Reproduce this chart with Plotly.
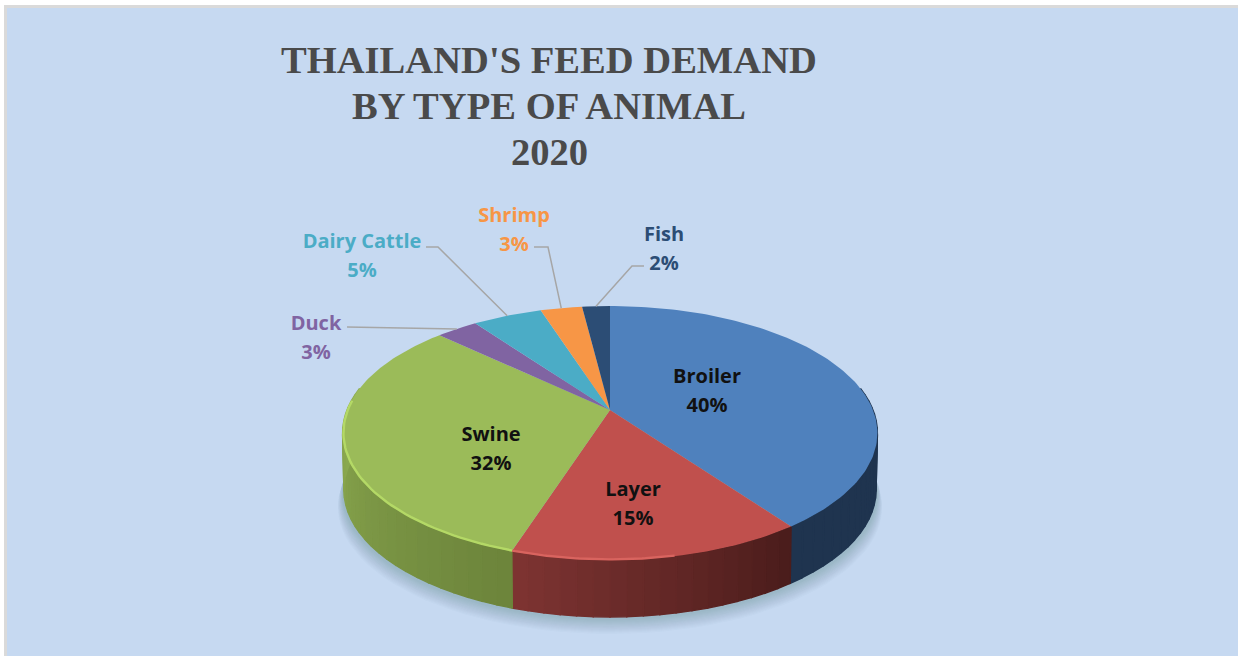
import math
import plotly.graph_objects as go

# Feed demand shares, percent
categories = ["Broiler", "Layer", "Swine", "Duck", "Dairy Cattle", "Shrimp", "Fish"]
shares = [40, 15, 32, 3, 5, 3, 2]
title_lines = ["THAILAND'S FEED DEMAND", "BY TYPE OF ANIMAL", "2020"]

# Styling per category
top_colors = ["#4F81BD", "#C0504D", "#9BBB59", "#8064A2", "#4BACC6", "#F79646", "#2C4D75"]
label_colors = ["#111111", "#111111", "#111111", "#8064A2", "#4BACC6", "#F79646", "#2C4D75"]
# Wall shading: colour at the start and the end of each slice's arc
wall_shades = {
    "Broiler": ((31, 52, 79), (31, 52, 79)),
    "Layer": ((74, 28, 27), (126, 52, 50)),
    "Swine": ((108, 132, 59), (143, 174, 82)),
}
rim_colors = {"Layer": "#D9645F", "Swine": "#B4D966"}

# Label anchors in page pixels: name line and value line
label_x = [707, 633, 491, 316, 362, 514, 664]
name_y = [378, 491, 436, 325, 243, 217, 236]
value_y = [407, 520, 465, 354, 272, 246, 265]
title_y = [60, 106, 152]
# Leader lines: (label end, elbow) for the outside labels
leaders = {
    "Duck": ((347, 327), (400, 328)),
    "Dairy Cattle": ((426, 247), (438, 247)),
    "Shrimp": ((534, 247), (548, 247)),
    "Fish": ((644, 266), (632, 266)),
}

W, H = 1238, 656
CX, CY = 610, 410             # projected disc centre
A, B, P = 263, 122.8, 0.181   # disc radii and perspective strength
DEPTH = 57                    # height of the cylinder wall


def disc(theta, radius=1.0, drop=0.0, shrink=1.0):
    """Project a point of the tilted disc; theta runs clockwise from 12 o'clock."""
    u = radius * math.sin(theta)
    v = -radius * math.cos(theta)
    d = 1 - P * v
    return CX + shrink * A * u / d, CY + B * v / d + drop


def arc(t0, t1, n, **kw):
    pts = [disc(t0 + (t1 - t0) * i / n, **kw) for i in range(n + 1)]
    return [p[0] for p in pts], [p[1] for p in pts]


total = sum(shares)
cum = [0]
for s in shares:
    cum.append(cum[-1] + s)
edges = [2 * math.pi * c / total for c in cum]

fig = go.Figure()


def poly(xs, ys, color, line=0.0):
    fig.add_trace(go.Scatter(
        x=xs, y=ys, mode="lines", fill="toself", fillcolor=color,
        line=dict(color=color, width=line), hoverinfo="skip", showlegend=False,
    ))


# Soft ground shadow below the cylinder
steps = 14
for i in range(steps):
    f = 1 - i / steps
    xs, ys = arc(0, 2 * math.pi, 120, drop=DEPTH + 2 + 15 * f, shrink=1.0 + 0.018 * f)
    poly(xs, ys, "rgba(70,90,125,0.02)")

# Cylinder wall: narrow strips give the shaded gradient
sil = math.acos(P)
vis0, vis1 = sil, 2 * math.pi - sil
for i, name in enumerate(categories):
    if name not in wall_shades:
        continue
    t0, t1 = max(edges[i], vis0), min(edges[i + 1], vis1)
    if t1 <= t0:
        continue
    n = max(4, int((t1 - t0) / math.radians(3)))
    c0, c1 = wall_shades[name]
    for k in range(n):
        a = t0 + (t1 - t0) * k / n
        b = t0 + (t1 - t0) * (k + 1) / n
        f = (k + 0.5) / n
        col = "rgb({},{},{})".format(*[round(c0[j] + (c1[j] - c0[j]) * f) for j in range(3)])
        xt, yt = arc(a, b, 2)
        xb, yb = arc(a, b, 2, drop=DEPTH, shrink=0.995)
        poly(xt + xb[::-1] + [xt[0]], yt + yb[::-1] + [yt[0]], col, line=1.4)

# Top face of each slice
for i, color in enumerate(top_colors):
    xs, ys = arc(edges[i], edges[i + 1], max(3, int((edges[i + 1] - edges[i]) / 0.02)))
    poly([CX] + xs + [CX], [CY] + ys + [CY], color)

# Bevel highlight along the front rim, fading out before the silhouette
for i, name in enumerate(categories):
    if name in rim_colors:
        t0, t1 = max(edges[i], vis0), min(edges[i + 1], vis1 - math.radians(6))
        if name == "Layer":
            t0 = t1 - (t1 - t0) * 0.55
        xs, ys = arc(t0, t1, 50, radius=0.997)
        fig.add_trace(go.Scatter(
            x=xs, y=ys, mode="lines", line=dict(color=rim_colors[name], width=2.4),
            hoverinfo="skip", showlegend=False,
        ))

# Leader lines from the outside labels to the middle of their slices
for name, (start, elbow) in leaders.items():
    i = categories.index(name)
    end = disc((edges[i] + edges[i + 1]) / 2)
    fig.add_trace(go.Scatter(
        x=[start[0], elbow[0], end[0]], y=[start[1], elbow[1], end[1]], mode="lines",
        line=dict(color="#A6A6A6", width=1.5), hoverinfo="skip", showlegend=False,
    ))

# Category names and percentages
fig.add_trace(go.Scatter(
    x=label_x + label_x,
    y=name_y + value_y,
    mode="text",
    text=categories + [f"{s}%" for s in shares],
    textposition="middle center",
    textfont=dict(family="Open Sans", size=20, color=label_colors + label_colors, weight="bold"),
    hoverinfo="skip",
    showlegend=False,
))

# Three-line heading, spaced tighter than the default title line height
annotations = [
    dict(
        text=f"<b>{line}</b>", x=549, y=y, xref="x", yref="y", showarrow=False,
        xanchor="center", yanchor="middle",
        font=dict(family="Liberation Serif", size=38.6, color="#4A4A4A"),
    )
    for line, y in zip(title_lines, title_y)
]

fig.update_layout(
    width=W,
    height=H,
    margin=dict(l=0, r=0, t=0, b=0),
    paper_bgcolor="#FFFFFF",
    plot_bgcolor="rgba(0,0,0,0)",
    annotations=annotations,
    xaxis=dict(range=[0, W], visible=False, fixedrange=True),
    yaxis=dict(range=[H, 0], visible=False, fixedrange=True),
    shapes=[
        dict(type="rect", layer="below", x0=5.5, y0=6.5, x1=W + 10, y1=H + 10,
             fillcolor="#C6D9F1", line=dict(color="#DADADA", width=3)),
    ],
)

fig.write_html("out.html", config={"displayModeBar": False})
